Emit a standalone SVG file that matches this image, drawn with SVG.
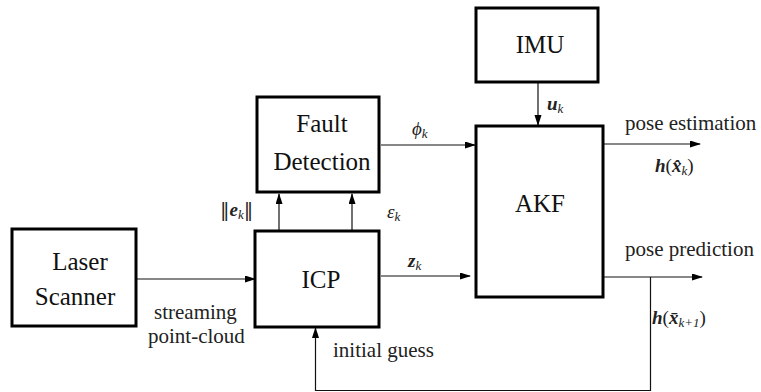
<svg xmlns="http://www.w3.org/2000/svg" width="761" height="392" viewBox="0 0 761 392">
<style>
.box{fill:#fff;stroke:#000;stroke-width:3}
.t{font-family:"Liberation Serif","Times New Roman",serif;font-size:25px;fill:#111;text-anchor:middle}
.l{font-family:"Liberation Serif","Times New Roman",serif;font-size:21px;fill:#222}
.m{font-family:"Liberation Serif","Times New Roman",serif;font-size:19px;font-style:italic;fill:#222}
.n{font-family:"DejaVu Serif",serif;font-style:normal}
.b{font-weight:bold}
.s{font-size:13px}
.c{fill:none;stroke:#111;stroke-width:1.2}
</style>
<defs>
<marker id="ah" markerWidth="11" markerHeight="8" refX="10" refY="3.5" orient="auto" markerUnits="userSpaceOnUse">
<path d="M0,0 L11,3.5 L0,7 Z" fill="#000"/>
</marker>
</defs>
<g id="connectors">
<line class="c" x1="137" y1="279" x2="255" y2="279" marker-end="url(#ah)"/>
<line class="c" x1="279" y1="231" x2="279" y2="194" marker-end="url(#ah)"/>
<line class="c" x1="352" y1="231" x2="352" y2="194" marker-end="url(#ah)"/>
<line class="c" x1="381" y1="145" x2="475" y2="145" marker-end="url(#ah)"/>
<line class="c" x1="538" y1="83" x2="538" y2="125" marker-end="url(#ah)"/>
<line class="c" x1="381" y1="276" x2="470" y2="276" marker-end="url(#ah)"/>
<line class="c" x1="604" y1="144" x2="700" y2="144" marker-end="url(#ah)"/>
<line class="c" x1="604" y1="277" x2="702" y2="277" marker-end="url(#ah)"/>
<polyline class="c" points="650.5,277 650.5,390.5 315.5,390.5 315.5,328" marker-end="url(#ah)"/>
</g>
<g id="laser">
<rect class="box" x="12" y="229" width="124" height="97"/>
<text class="t" x="80" y="270">Laser</text>
<text class="t" x="75" y="305">Scanner</text>
</g>
<g id="icp">
<rect class="box" x="255" y="231" width="124" height="96"/>
<text class="t" x="321" y="288">ICP</text>
</g>
<g id="fault">
<rect class="box" x="257" y="97" width="122" height="95"/>
<text class="t" x="322" y="132">Fault</text>
<text class="t" x="322" y="170">Detection</text>
</g>
<g id="imu">
<rect class="box" x="476" y="8" width="122" height="74"/>
<text class="t" x="540" y="53">IMU</text>
</g>
<g id="akf">
<rect class="box" x="476" y="126" width="127" height="171"/>
<text class="t" x="540" y="212">AKF</text>
</g>
<g id="labels">
<text class="l" x="154" y="319">streaming</text>
<text class="l" x="148" y="343">point-cloud</text>
<text class="l" x="333" y="357">initial guess</text>
<text class="l" x="625" y="130">pose estimation</text>
<text class="l" x="625" y="256">pose prediction</text>
<text class="m" x="220" y="216"><tspan class="n">‖</tspan><tspan class="b">e</tspan><tspan class="s" dy="3">k</tspan><tspan class="n" dy="-3">‖</tspan></text>
<text class="m" x="387" y="218">ε<tspan class="s" dy="3">k</tspan></text>
<text class="m" x="412" y="135">ϕ<tspan class="s" dy="3">k</tspan></text>
<text class="m" x="408" y="267"><tspan class="b">z</tspan><tspan class="s" dy="3">k</tspan></text>
<text class="m" x="547" y="110"><tspan class="b">u</tspan><tspan class="s" dy="3">k</tspan></text>
<text class="m" x="655" y="172"><tspan class="b">h</tspan><tspan font-style="normal">(</tspan><tspan class="b">x̂</tspan><tspan class="s" dy="3">k</tspan><tspan dy="-3" font-style="normal">)</tspan></text>
<text class="m" x="652" y="324"><tspan class="b">h</tspan><tspan font-style="normal">(</tspan><tspan class="b">x̄</tspan><tspan class="s" dy="3">k+1</tspan><tspan dy="-3" font-style="normal">)</tspan></text>
</g>
</svg>
